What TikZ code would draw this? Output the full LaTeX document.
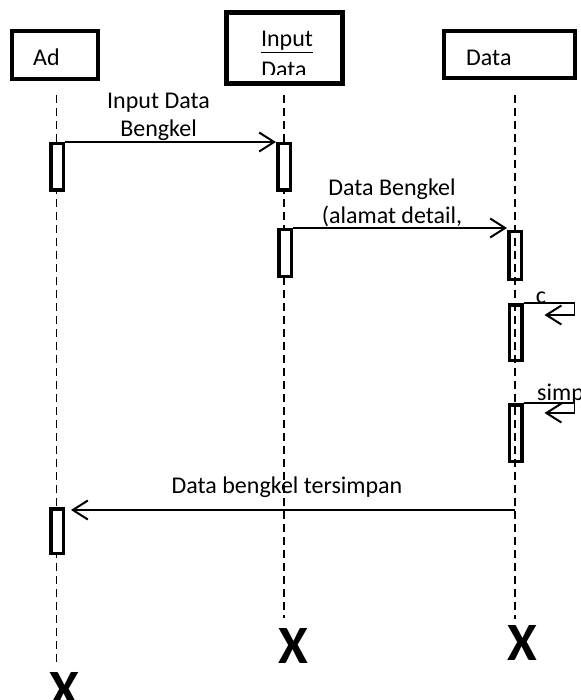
\documentclass[tikz,border=0pt]{standalone}
\usepackage{fontspec}
\setmainfont{Carlito}
\usepackage{tikz}
\usetikzlibrary{arrows.meta}

\begin{document}
\begin{tikzpicture}[x=1pt, y=-1pt,
  font=\fontsize{24}{28}\selectfont,
  obj/.style={draw, line width=4.5pt, inner sep=0pt},
  act/.style={draw, fill=white, line width=3.5pt, minimum width=12.5pt, inner sep=0pt},
  life/.style={line width=1.6pt, dash pattern=on 8pt off 5pt},
  msg/.style={line width=1.8pt, -{Straight Barb[length=15pt, width=19pt, line width=2pt]}},
  lbl/.style={align=center, inner sep=0pt},
  kill/.style={font=\fontsize{54}{54}\selectfont\bfseries, inner sep=0pt}]
  \useasboundingbox (0,0) rectangle (580,700);

  \node[obj, minimum width=86pt, minimum height=48pt] (ad) at (55,55) {};
  \node[obj, line width=5.5pt, minimum width=116pt, minimum height=71pt] (inp) at (284.5,48) {};
  \node[obj, minimum width=131pt, minimum height=47pt] (dat) at (509.5,54.5) {};
  \node[anchor=base west, inner sep=0pt] (adT) at (33,66) {Ad};
  \node[anchor=base west, inner sep=0pt] (datT) at (466,66) {Data};
  \begin{scope}
    \clip (226,12) rectangle (343,75);
    \node[anchor=base, inner sep=0pt] (inpT1) at (287,47) {\underline{Input}};
    \node[anchor=base, inner sep=0pt] (inpT2) at (284,78) {Data};
  \end{scope}

  \coordinate (adTop) at (56.5,95);  \coordinate (adEnd) at (56.5,662);
  \coordinate (inpTop) at (284,95);  \coordinate (inpEnd) at (284,618);
  \coordinate (datTop) at (515,95);  \coordinate (datEnd) at (515,619);
  \draw[life] (adTop) -- (adEnd);
  \draw[life] (inpTop) -- (inpEnd);
  \draw[life] (datTop) -- (datEnd);

  \node[act, minimum height=46.5pt] (a1) at (57,167) {};
  \node[act, minimum height=46.5pt] (i1) at (284,167) {};
  \node[act, minimum height=46.5pt] (i2) at (285,253) {};
  \node[act, fill=none, minimum height=47.5pt] (d1) at (515,255.5) {};
  \node[act, fill=none, minimum height=55.5pt] (d2) at (515.5,332.5) {};
  \node[act, fill=none, minimum height=56.5pt] (d3) at (515.5,433) {};
  \node[act, minimum height=44.5pt] (a2) at (57,531) {};

  \path
  (a1.north east) edge[msg] node[lbl, above, xshift=-12pt] {Input Data\\Bengkel} (i1.north west)
  (i2.north east) edge[msg] node[lbl, above, xshift=-8pt] {Data Bengkel\\(alamat detail,} (d1.west |- i2.north east)
  ;

  \draw[msg] (d2.north east) -- ++(51,0) -- ++(0,12) -- ++(-30,0);
  \node[anchor=base, inner sep=0pt] (cL) at (541,303) {c};
  \draw[msg] (d3.north east) -- ++(51,0) -- ++(0,10) -- ++(-30,0);
  \node[anchor=base west, inner sep=0pt] (simpL) at (537,400) {simp};

  \coordinate (ret) at (515,510);
  \path (ret) edge[msg, shorten >=6pt] node[lbl, above, xshift=-3pt, yshift=11pt] {Data bengkel tersimpan} (ret -| a2.east);

  \node[kill] (adX) at (64.5,690) {X};
  \node[kill] (inpX) at (293.5,645.5) {X};
  \node[kill] (datX) at (522.5,643) {X};
\end{tikzpicture}
\end{document}
